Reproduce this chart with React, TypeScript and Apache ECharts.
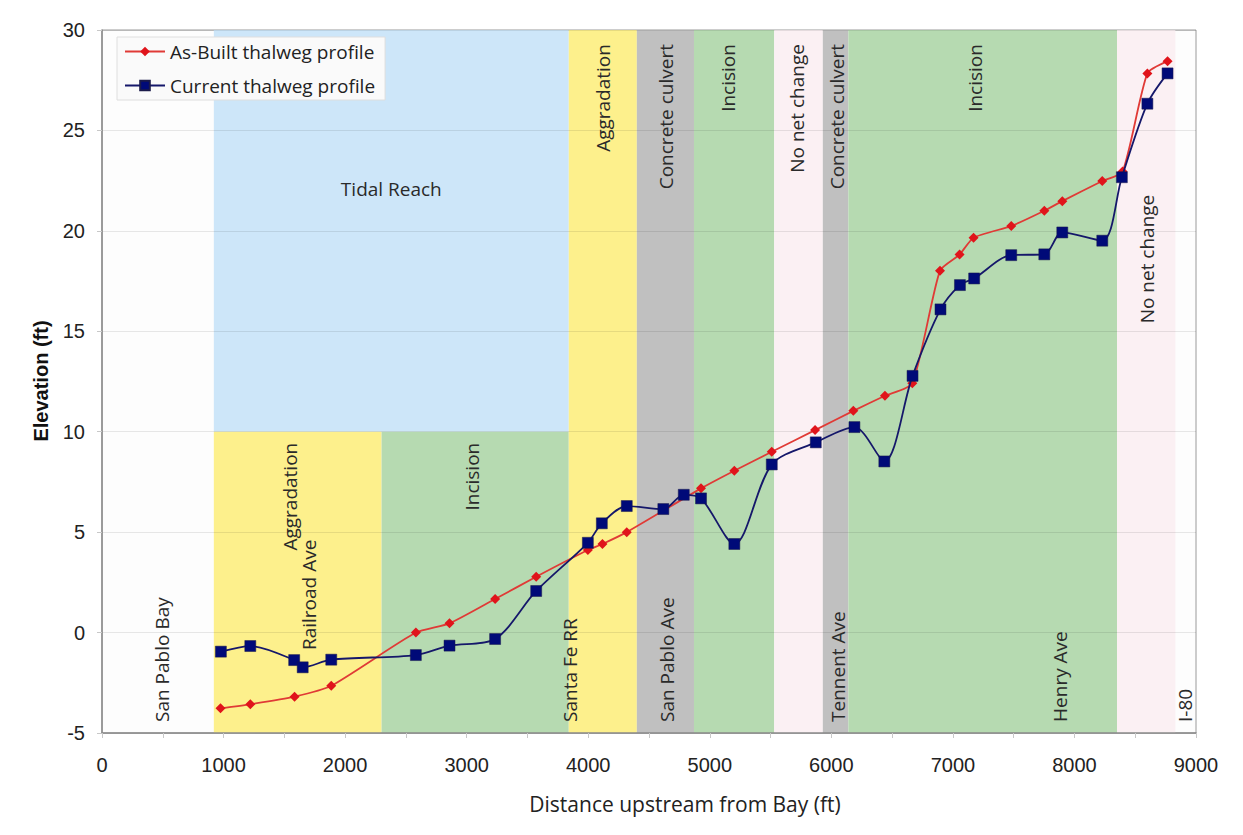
import React, { useEffect, useRef } from "react";
import * as echarts from "echarts";

// ---- Data ----
const asBuiltX = [975, 1220, 1584, 1886, 2582, 2859, 3234, 3572, 3997, 4117, 4317, 4928, 5202, 5510, 5866, 6181, 6441, 6666, 6894, 7055, 7170, 7480, 7752, 7900, 8229, 8396, 8600, 8766];
const asBuiltY = [-3.77, -3.57, -3.19, -2.65, 0.0, 0.46, 1.67, 2.78, 4.11, 4.41, 5.0, 7.18, 8.06, 9.0, 10.08, 11.04, 11.79, 12.41, 18.02, 18.82, 19.66, 20.24, 21.0, 21.48, 22.48, 22.95, 27.84, 28.45];

const currentX = [978, 1220, 1581, 1651, 1886, 2582, 2859, 3234, 3572, 3997, 4112, 4317, 4618, 4786, 4928, 5202, 5510, 5872, 6190, 6436, 6668, 6898, 7058, 7175, 7480, 7752, 7900, 8229, 8390, 8600, 8766];
const currentY = [-0.95, -0.67, -1.37, -1.73, -1.35, -1.12, -0.65, -0.32, 2.07, 4.47, 5.44, 6.3, 6.15, 6.86, 6.68, 4.41, 8.37, 9.47, 10.23, 8.52, 12.78, 16.09, 17.3, 17.63, 18.79, 18.83, 19.92, 19.51, 22.67, 26.33, 27.84];

// Reach bands (distance range, elevation range, type)
const bandX0 = [920, 920, 2300, 3840, 4400, 4870, 5530, 5930, 6140, 8350];
const bandX1 = [3840, 2300, 3840, 4400, 4870, 5530, 5930, 6140, 8350, 8830];
const bandY0 = [10, -5, -5, -5, -5, -5, -5, -5, -5, -5];
const bandY1 = [30, 10, 10, 30, 30, 30, 30, 30, 30, 30];
const bandKind = ["tidal", "aggradation", "incision", "aggradation", "culvert", "incision", "nochange", "culvert", "incision", "nochange"];

// Annotation texts
const labelTexts = [
  "Tidal Reach", "Aggradation", "Concrete culvert", "Incision", "No net change", "Concrete culvert", "Incision", "No net change",
  "Aggradation", "Railroad Ave", "Incision",
  "San Pablo Bay", "Santa Fe RR", "San Pablo Ave", "Tennent Ave", "Henry Ave", "I-80",
];
const labelX = [2380, 4120, 4640, 5150, 5720, 6050, 7180, 8595, 1550, 1705, 3046, 496, 3851, 4649, 6055, 7881, 8910];
const labelY = [22.1, 29.3, 29.3, 29.3, 29.3, 29.3, 29.3, 21.8, 9.45, -0.87, 9.45, -4.45, -4.45, -4.45, -4.45, -4.45, -4.45];
// 0 = horizontal centered, 1 = vertical hanging from top, 2 = vertical standing on bottom
const labelMode = [0, 1, 1, 1, 1, 1, 1, 1, 1, 2, 1, 2, 2, 2, 2, 2, 2];

const xTicks = { min: 0, max: 9000, interval: 1000 };
const yTicks = { min: -5, max: 30, interval: 5 };

const bandColors: Record<string, string> = {
  tidal: "#cde6f9",
  aggradation: "#fdf08c",
  incision: "#b6dab1",
  culvert: "#c0c0c0",
  nochange: "#fbf0f3",
};

const TEXT_FONT = "'Open Sans', 'Noto Sans', sans-serif";
const NUM_FONT = "'Liberation Sans', Arial, sans-serif";

export default function App() {
  const ref = useRef<HTMLDivElement>(null);

  useEffect(() => {
    if (!ref.current) return;
    const chart = echarts.init(ref.current, undefined, { renderer: "svg" });

    const bandData = bandX0.map((x0, i) => [x0, bandX1[i], bandY0[i], bandY1[i], i]);
    const labelData = labelX.map((x, i) => [x, labelY[i], i]);

    const option: any = {
      animation: false,
      backgroundColor: "#ffffff",
      grid: {
        left: 102,
        right: 47,
        top: 30,
        bottom: 102,
        show: true,
        backgroundColor: "#fdfdfd",
        borderColor: "#9a9a9a",
        borderWidth: 1,
        z: 0,
      },
      legend: {
        orient: "vertical",
        left: 117,
        top: 37,
        padding: [5, 10, 5, 7],
        itemWidth: 40,
        itemHeight: 12,
        itemGap: 15,
        backgroundColor: "#fafafa",
        borderColor: "#dedede",
        borderWidth: 1,
        z: 10,
        textStyle: { fontFamily: TEXT_FONT, fontSize: 19, color: "#222", lineHeight: 18 },
        data: ["As-Built thalweg profile", "Current thalweg profile"],
      },
      xAxis: {
        type: "value",
        min: xTicks.min,
        max: xTicks.max,
        interval: xTicks.interval,
        z: 2,
        axisLine: { show: true, onZero: false, lineStyle: { color: "#8a8a8a", width: 1.5 } },
        axisTick: { show: true, length: 5, lineStyle: { color: "#c8c8c8" } },
        minorTick: { show: true, splitNumber: 2, length: 5, lineStyle: { color: "#c8c8c8" } },
        axisLabel: {
          fontFamily: NUM_FONT,
          fontSize: 20,
          color: "#222",
          margin: 22,
          formatter: (v: number) => String(v),
        },
        splitLine: { show: false },
      },
      yAxis: {
        type: "value",
        min: yTicks.min,
        max: yTicks.max,
        interval: yTicks.interval,
        z: 2,
        axisLine: { show: true, onZero: false, lineStyle: { color: "#8a8a8a", width: 1.5 } },
        axisTick: { show: true, length: 5, lineStyle: { color: "#c8c8c8" } },
        axisLabel: { fontFamily: NUM_FONT, fontSize: 20, color: "#222", margin: 17 },
        splitLine: { show: true, lineStyle: { color: "rgba(0,0,0,0.09)", width: 1 } },
      },
      graphic: [
        {
          type: "text",
          x: 41,
          y: 381,
          rotation: Math.PI / 2,
          style: {
            text: "Elevation (ft)",
            fontFamily: NUM_FONT,
            fontWeight: "bold",
            fontSize: 20,
            fill: "#111",
            align: "center",
            verticalAlign: "middle",
          },
        },
        {
          type: "text",
          x: 685,
          y: 804,
          style: {
            text: "Distance upstream from Bay (ft)",
            fontFamily: TEXT_FONT,
            fontSize: 21,
            fill: "#222",
            align: "center",
            verticalAlign: "middle",
          },
        },
      ],
      series: [
        {
          type: "custom",
          name: "bands",
          z: 1,
          silent: true,
          clip: true,
          encode: { x: [0, 1], y: [2, 3] },
          data: bandData,
          renderItem: (params: any, api: any) => {
            const i = api.value(4);
            const p0 = api.coord([api.value(0), api.value(3)]);
            const p1 = api.coord([api.value(1), api.value(2)]);
            return {
              type: "rect",
              shape: { x: p0[0], y: p0[1], width: p1[0] - p0[0], height: p1[1] - p0[1] },
              style: { fill: bandColors[bandKind[i]] },
            };
          },
        },
        {
          type: "custom",
          name: "labels",
          z: 3,
          silent: true,
          encode: { x: 0, y: 1 },
          data: labelData,
          renderItem: (params: any, api: any) => {
            const i = api.value(2);
            const p = api.coord([api.value(0), api.value(1)]);
            const mode = labelMode[i];
            return {
              type: "text",
              x: p[0],
              y: p[1],
              rotation: mode === 0 ? 0 : Math.PI / 2,
              style: {
                text: labelTexts[i],
                fontFamily: TEXT_FONT,
                fontSize: 19,
                fill: "#2a2a2a",
                align: mode === 0 ? "center" : mode === 1 ? "right" : "left",
                verticalAlign: "middle",
              },
            };
          },
        },
        {
          type: "line",
          name: "As-Built thalweg profile",
          z: 4,
          data: asBuiltX.map((x, i) => [x, asBuiltY[i]]),
          smooth: 0.2,
          symbol: "diamond",
          symbolSize: 10,
          lineStyle: { color: "#e03a36", width: 1.8 },
          itemStyle: { color: "#e0141b" },
        },
        {
          type: "line",
          name: "Current thalweg profile",
          z: 5,
          data: currentX.map((x, i) => [x, currentY[i]]),
          smooth: 0.3,
          symbol: "rect",
          symbolSize: 11,
          lineStyle: { color: "#15176a", width: 1.8 },
          itemStyle: { color: "#000a78", borderColor: "#1b1b4a", borderWidth: 0.5 },
        },
      ],
    };

    chart.setOption(option);
    return () => chart.dispose();
  }, []);

  return (
    <div
      ref={ref}
      style={{ position: "fixed", left: 0, top: 0, width: 1243, height: 835 }}
    />
  );
}
